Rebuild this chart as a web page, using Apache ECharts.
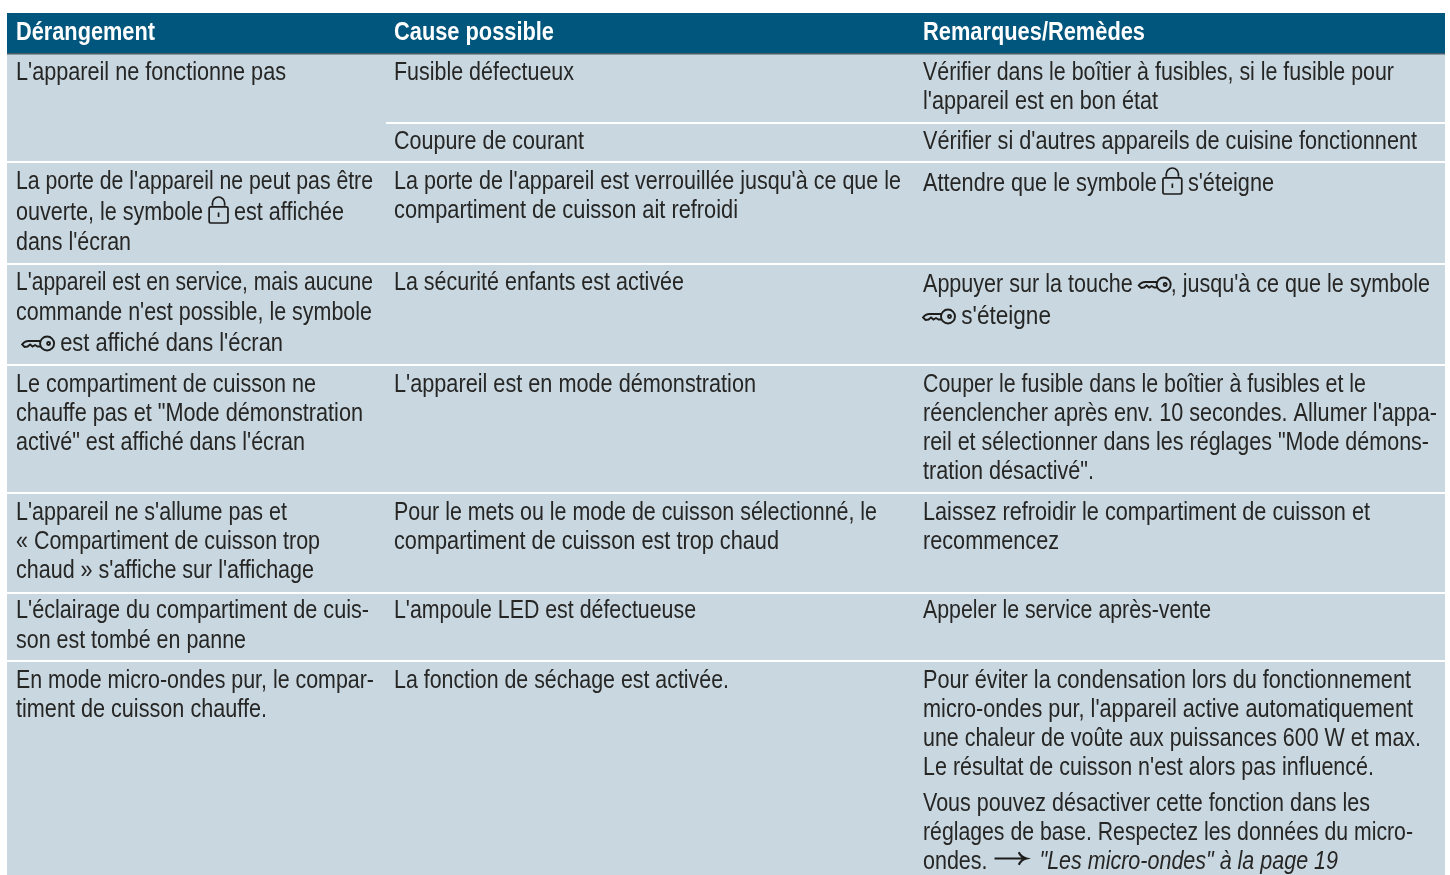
<!DOCTYPE html>
<html>
<head>
<meta charset="utf-8">
<style>
  html, body { margin: 0; padding: 0; background: #fff; }
  #chart { width: 1450px; height: 875px; }
</style>
<script src="https://cdn.jsdelivr.net/npm/echarts@6/dist/echarts.min.js"></script>
</head>
<body>
<div id="chart"></div>
<script>
  // table text, one entry per printed line
  const headers = ['Dérangement', 'Cause possible', 'Remarques/Remèdes'];
  const faults = [
    "L'appareil ne fonctionne pas",
    "La porte de l'appareil ne peut pas être", "ouverte, le symbole {lock} est affichée", "dans l'écran",
    "L'appareil est en service, mais aucune", "commande n'est possible, le symbole", " {key} est affiché dans l'écran",
    "Le compartiment de cuisson ne", "chauffe pas et \"Mode démonstration", "activé\" est affiché dans l'écran",
    "L'appareil ne s'allume pas et", "« Compartiment de cuisson trop", "chaud » s'affiche sur l'affichage",
    "L'éclairage du compartiment de cuis-", "son est tombé en panne",
    "En mode micro-ondes pur, le compar-", "timent de cuisson chauffe."
  ];
  const causes = [
    "Fusible défectueux",
    "Coupure de courant",
    "La porte de l'appareil est verrouillée jusqu'à ce que le", "compartiment de cuisson ait refroidi",
    "La sécurité enfants est activée",
    "L'appareil est en mode démonstration",
    "Pour le mets ou le mode de cuisson sélectionné, le", "compartiment de cuisson est trop chaud",
    "L'ampoule LED est défectueuse",
    "La fonction de séchage est activée."
  ];
  const remedies = [
    "Vérifier dans le boîtier à fusibles, si le fusible pour", "l'appareil est en bon état",
    "Vérifier si d'autres appareils de cuisine fonctionnent",
    "Attendre que le symbole {lock} s'éteigne",
    "Appuyer sur la touche {key}, jusqu'à ce que le symbole", "{key} s'éteigne",
    "Couper le fusible dans le boîtier à fusibles et le", "réenclencher après env. 10 secondes. Allumer l'appa-", "reil et sélectionner dans les réglages \"Mode démons-", "tration désactivé\".",
    "Laissez refroidir le compartiment de cuisson et", "recommencez",
    "Appeler le service après-vente",
    "Pour éviter la condensation lors du fonctionnement", "micro-ondes pur, l'appareil active automatiquement", "une chaleur de voûte aux puissances 600 W et max.", "Le résultat de cuisson n'est alors pas influencé.",
    "Vous pouvez désactiver cette fonction dans les", "réglages de base. Respectez les données du micro-", "ondes. {arrow} {i}\"Les micro-ondes\" à la page 19"
  ];

  // where things sit, read from the page (axis units are pixels)
  const columnX = [16, 394, 923];
  const headerY = 31;
  const headerEnd = [155, 554, 1145];
  const faultY = [71, 180, 211, 241, 281, 311, 342, 383, 412, 441, 511, 540, 569, 609, 639, 679, 708];
  const faultEnd = [286, 373, 344, 131, 373, 372, 283, 316, 363, 305, 287, 320, 314, 369, 246, 374, 267];
  const causeY = [71, 140, 180, 209, 281, 383, 511, 540, 609, 679];
  const causeEnd = [574, 584, 901, 738, 684, 756, 877, 779, 696, 729];
  const remedyY = [71, 100, 140, 182, 283, 315, 383, 412, 441, 470, 511, 540, 609, 679, 708, 737, 766, 802, 831, 860];
  const remedyEnd = [1394, 1158, 1417, 1274, 1430, 1051, 1366, 1437, 1429, 1094, 1370, 1059, 1211, 1411, 1413, 1421, 1374, 1370, 1413, 1338];
  const rowRules = [[386, 123], [7, 162], [7, 264], [7, 365], [7, 493], [7, 593], [7, 661]];
  const tableLeft = 7, tableRight = 1445, tableTop = 13, headerBottom = 53, tableBottom = 875;

  const FONT = '"Liberation Sans"';
  const FONT_SIZE = 25;
  const HEADER_SIZE = 26;
  const TEXT_COLOR = '#262624';
  const ICON_COLOR = '#1d1d1b';

  const icons = {
    '{lock}': { path: 'M4 9V6.5a5.5 5.5 0 0 1 11 0V9M2.5 10H16.5a1.5 1.5 0 0 1 1.5 1.5V23a1.5 1.5 0 0 1-1.5 1.5H2.5A1.5 1.5 0 0 1 1 23V11.5A1.5 1.5 0 0 1 2.5 10ZM9.5 15V19', w: 19, h: 26, dy: -14, adv: 19, dx: 0, lw: 1.7 },
    '{key}': { path: 'M19 5.5H7Q3 5.5 0.5 9L3 11.5L6 11L8.5 9L11 11L13.5 9.5L16 11H19M25.5 1A7 7 0 0 1 25.5 15A7 7 0 0 1 25.5 1ZM27 6.5A1.5 1.5 0 0 1 27 9.5A1.5 1.5 0 0 1 27 6.5Z', w: 32, h: 15, dy: -6, adv: 32, dx: 0, lw: 1.9 },
    '{arrow}': { path: 'M0 7H32M25 0.5C26.5 4 29 6 33 7C29 8 26.5 10 25 13.5', w: 32, h: 13, dy: -8, adv: 40, dx: 1, lw: 2.2 }
  };

  const ctx = document.createElement('canvas').getContext('2d');

  function fontString(weight, italic, size) {
    return (italic ? 'italic ' : '') + weight + ' ' + size + 'px ' + FONT;
  }

  // lays one printed line out, text runs and icons left to right,
  // the text runs squeezed so the line stops where it stops on the page
  function lineChildren(text, px, py, endX, weight, color, size) {
    let parts = text.split(/(\{lock\}|\{key\}|\{arrow\}|\{i\})/).filter(Boolean);
    let italic = false;
    let natural = 0;
    let iconWidth = 0;
    parts.forEach(function (part) {
      if (part === '{i}') {
        italic = true;
      } else if (icons[part]) {
        iconWidth += icons[part].adv;
      } else {
        ctx.font = fontString(weight, italic, size);
        natural += ctx.measureText(part).width;
      }
    });
    let scale = (endX - px - iconWidth) / natural;

    let children = [];
    let x = px;
    italic = false;
    parts.forEach(function (part) {
      if (part === '{i}') {
        italic = true;
      } else if (icons[part]) {
        let ic = icons[part];
        children.push({
          type: 'path',
          shape: { pathData: ic.path, x: x + ic.dx, y: py + ic.dy, width: ic.w, height: ic.h },
          style: { fill: 'none', stroke: ICON_COLOR, lineWidth: ic.lw }
        });
        x += ic.adv;
      } else {
        let f = fontString(weight, italic, size);
        ctx.font = f;
        children.push({
          type: 'text',
          x: x,
          y: py + 2,
          scaleX: scale,
          style: { text: part, fill: color, font: f, textVerticalAlign: 'middle', textAlign: 'left' }
        });
        x += ctx.measureText(part).width * scale;
      }
    });
    return children;
  }

  function columnSeries(col, lines, ys, ends, weight, color, size) {
    return {
      type: 'custom',
      coordinateSystem: 'cartesian2d',
      silent: true,
      clip: false,
      data: lines.map(function (l, i) { return [columnX[col], ys[i], i]; }),
      encode: { x: 0, y: 1 },
      renderItem: function (params, api) {
        let i = api.value(2);
        let p = api.coord([api.value(0), api.value(1)]);
        let e = api.coord([ends[i], api.value(1)]);
        return { type: 'group', children: lineChildren(lines[i], p[0], p[1], e[0], weight, color, size) };
      }
    };
  }

  function bandSeries(bands) {
    return {
      type: 'custom',
      silent: true,
      data: bands.map(function (b) { return b.slice(0, 4); }),
      encode: { x: [0, 2], y: [1, 3] },
      renderItem: function (params, api) {
        let a = api.coord([api.value(0), api.value(1)]);
        let b = api.coord([api.value(2), api.value(3)]);
        return {
          type: 'rect',
          shape: { x: a[0], y: a[1], width: b[0] - a[0], height: b[1] - a[1] },
          style: { fill: bands[params.dataIndex][4] }
        };
      }
    };
  }

  const chart = echarts.init(document.getElementById('chart'), null, { renderer: 'canvas' });
  chart.setOption({
    animation: false,
    backgroundColor: '#ffffff',
    grid: { left: 0, right: 0, top: 0, bottom: 0 },
    xAxis: { type: 'value', min: 0, max: 1450, show: false },
    yAxis: { type: 'value', min: 0, max: 875, inverse: true, show: false },
    series: [
      bandSeries([
        [tableLeft, headerBottom, tableRight, tableBottom, '#c9d7e1'],
        [tableLeft, tableTop, tableRight, headerBottom, '#00567c'],
        [tableLeft, headerBottom, tableRight, headerBottom + 1.5, '#4a5c68']
      ]),
      {
        // white row rules
        type: 'custom',
        silent: true,
        data: rowRules,
        encode: { x: 0, y: 1 },
        renderItem: function (params, api) {
          let a = api.coord([api.value(0), api.value(1)]);
          let b = api.coord([tableRight, api.value(1)]);
          return {
            type: 'line',
            shape: { x1: a[0], y1: a[1], x2: b[0], y2: b[1] },
            style: { stroke: '#ffffff', lineWidth: 2 }
          };
        }
      },
      columnSeries(0, [headers[0]], [headerY], [headerEnd[0]], 'bold', '#ffffff', HEADER_SIZE),
      columnSeries(1, [headers[1]], [headerY], [headerEnd[1]], 'bold', '#ffffff', HEADER_SIZE),
      columnSeries(2, [headers[2]], [headerY], [headerEnd[2]], 'bold', '#ffffff', HEADER_SIZE),
      columnSeries(0, faults, faultY, faultEnd, 'normal', TEXT_COLOR, FONT_SIZE),
      columnSeries(1, causes, causeY, causeEnd, 'normal', TEXT_COLOR, FONT_SIZE),
      columnSeries(2, remedies, remedyY, remedyEnd, 'normal', TEXT_COLOR, FONT_SIZE)
    ]
  });
</script>
</body>
</html>
